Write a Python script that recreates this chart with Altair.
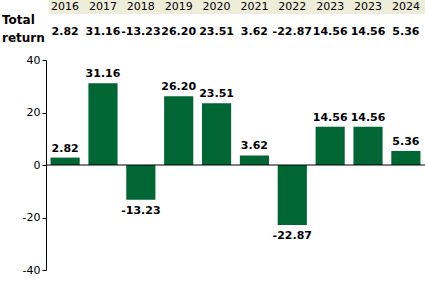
import altair as alt
import pandas as pd

years = ["2016", "2017", "2018", "2019", "2020", "2021", "2022", "2023", "2023", "2024"]
returns = [2.82, 31.16, -13.23, 26.20, 23.51, 3.62, -22.87, 14.56, 14.56, 5.36]
row_title = ["Total", "return"]

df = pd.DataFrame({
    "idx": list(range(len(years))),
    "year": years,
    "ret": returns,
    "label": [f"{v:.2f}" for v in returns],
})
df["pos"] = df["ret"] >= 0

FONT = "DejaVu Sans"
order = list(range(len(years)))
xenc = alt.X("idx:O", scale=alt.Scale(domain=order, paddingInner=0.23, paddingOuter=0.12), axis=None)

bars = alt.Chart(df).mark_bar(color="#006633").encode(
    x=xenc,
    y=alt.Y("ret:Q", scale=alt.Scale(domain=[-40, 40], nice=False),
            axis=alt.Axis(values=[-40, -30, -20, -10, 0, 10, 20, 30, 40],
                          labelExpr="datum.value % 20 == 0 ? toString(datum.value) : ''",
                          title=None, grid=False, domainColor="black", tickColor="black",
                          tickSize=4, labelFont=FONT, labelFontSize=11, labelColor="black",
                          labelPadding=2)),
)

zero = alt.Chart(pd.DataFrame({"z": [0]})).mark_rule(color="black", strokeWidth=1).encode(
    y=alt.Y("z:Q"), x=alt.value(0), x2=alt.value(379))

lab_pos = alt.Chart(df[df["pos"]]).mark_text(font=FONT, fontSize=11, fontWeight="bold",
                                             baseline="bottom", dy=-4, color="black").encode(
    x=xenc, y="ret:Q", text="label:N")
lab_neg = alt.Chart(df[~df["pos"]]).mark_text(font=FONT, fontSize=11, fontWeight="bold",
                                              baseline="top", dy=5, color="black").encode(
    x=xenc, y="ret:Q", text="label:N")

header_bg = alt.Chart(pd.DataFrame({"a": [0]})).mark_rect(color="#EEEDD9").encode(
    x=alt.value(3), x2=alt.value(379), y=alt.value(-60), y2=alt.value(-46))

year_txt = alt.Chart(df).mark_text(font=FONT, fontSize=11, color="black", baseline="middle").encode(
    x=xenc, y=alt.value(-53), text="year:N")
val_txt = alt.Chart(df).mark_text(font=FONT, fontSize=11, fontWeight="bold", color="black",
                                  baseline="middle").encode(
    x=xenc, y=alt.value(-28), text="label:N")

title_df = pd.DataFrame({"t": row_title, "yy": [-40, -22]})
title_txt = alt.Chart(title_df).mark_text(font=FONT, fontSize=12, fontWeight="bold", color="black",
                                          align="left", baseline="middle").encode(
    x=alt.value(-44), y=alt.Y("yy:Q", scale=None), text="t:N")

chart = alt.layer(header_bg, bars, zero, lab_pos, lab_neg, year_txt, val_txt, title_txt).properties(
    width=379, height=210,
    autosize=alt.AutoSizeParams(type="none"),
    padding={"left": 46, "top": 60, "right": 0, "bottom": 18},
    background="white",
).configure_view(stroke=None)

chart.save("out.html", embed_options={"renderer": "svg", "actions": False})
